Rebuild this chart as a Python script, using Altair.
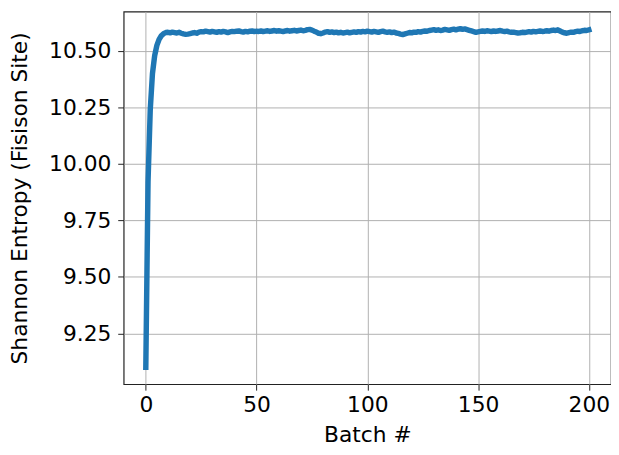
import altair as alt
import pandas as pd

batches = list(range(0, 201))

entropy = [
    9.10, 9.92, 10.24, 10.40, 10.48, 10.525, 10.552, 10.568, 10.577, 10.582,
    10.583, 10.581, 10.584, 10.582, 10.580, 10.583, 10.579, 10.576, 10.574, 10.575,
    10.577, 10.580, 10.582, 10.579, 10.584, 10.586, 10.585, 10.588, 10.586, 10.584,
    10.587, 10.585, 10.583, 10.586, 10.584, 10.587, 10.585, 10.582, 10.585, 10.587,
    10.586, 10.588, 10.589, 10.586, 10.584, 10.587, 10.585, 10.588, 10.589, 10.586,
    10.588, 10.587, 10.589, 10.586, 10.588, 10.590, 10.587, 10.589, 10.591, 10.588,
    10.590, 10.588, 10.586, 10.589, 10.591, 10.588, 10.590, 10.592, 10.589, 10.591,
    10.593, 10.590, 10.592, 10.595, 10.596, 10.593, 10.588, 10.584, 10.579, 10.577,
    10.580, 10.584, 10.586, 10.583, 10.585, 10.582, 10.584, 10.581, 10.583, 10.580,
    10.582, 10.584, 10.581, 10.583, 10.585, 10.583, 10.586, 10.584, 10.587, 10.585,
    10.588, 10.586, 10.584, 10.587, 10.585, 10.583, 10.586, 10.588, 10.585, 10.583,
    10.585, 10.582, 10.584, 10.580, 10.578, 10.575, 10.573, 10.576, 10.579, 10.582,
    10.581, 10.584, 10.583, 10.586, 10.584, 10.587, 10.589, 10.588, 10.591, 10.593,
    10.595, 10.592, 10.594, 10.591, 10.593, 10.596, 10.594, 10.592, 10.595, 10.597,
    10.594, 10.597, 10.599, 10.596, 10.598, 10.595, 10.592, 10.589, 10.586, 10.583,
    10.585, 10.587, 10.589, 10.587, 10.590, 10.588, 10.586, 10.589, 10.587, 10.589,
    10.591, 10.588, 10.586, 10.588, 10.585, 10.583, 10.584, 10.582, 10.580, 10.581,
    10.583, 10.582, 10.584, 10.586, 10.584, 10.587, 10.585, 10.587, 10.589, 10.587,
    10.588, 10.590, 10.588, 10.591, 10.593, 10.591, 10.594, 10.589, 10.584, 10.581,
    10.579, 10.582, 10.584, 10.583, 10.586, 10.588, 10.587, 10.590, 10.592, 10.591,
    10.594,
]

x_ticks = [0, 50, 100, 150, 200]
y_ticks = [9.25, 9.50, 9.75, 10.00, 10.25, 10.50]

df = pd.DataFrame({"batch": batches, "entropy": entropy})

FONT = "DejaVu Sans"

chart = (
    alt.Chart(df)
    .mark_line(color="#1f77b4", strokeWidth=5.5, strokeCap="square", strokeJoin="round")
    .encode(
        x=alt.X(
            "batch:Q",
            scale=alt.Scale(domain=[-10, 210], nice=False, zero=False),
            axis=alt.Axis(
                title="Batch #",
                values=x_ticks,
                format="d",
                tickSize=6,
                labelPadding=5,
                titleBaseline="alphabetic",
                titleY=58,
            ),
        ),
        y=alt.Y(
            "entropy:Q",
            scale=alt.Scale(domain=[9.025, 10.675], nice=False, zero=False),
            axis=alt.Axis(
                title="Shannon Entropy (Fisison Site)",
                values=y_ticks,
                format=".2f",
                tickSize=6,
                labelPadding=7,
                titleBaseline="middle",
                titleX=-105,
                titleAngle=270,
            ),
        ),
    )
    .properties(
        width=493,
        height=377,
        background="white",
        autosize=alt.AutoSizeParams(type="none"),
        padding={"left": 117, "top": 1, "right": 0, "bottom": 68},
    )
    .configure_view(stroke="#222222", strokeWidth=1.2)
    .configure_axis(
        labelFont=FONT,
        titleFont=FONT,
        labelFontSize=22,
        titleFontSize=22,
        titleFontWeight="normal",
        labelColor="#000000",
        titleColor="#000000",
        grid=True,
        gridColor="#b0b0b0",
        gridWidth=1,
        domain=False,
        tickColor="#222222",
        tickWidth=1,
    )
)

chart.save("out.html", embed_options={"renderer": "svg", "actions": False})
